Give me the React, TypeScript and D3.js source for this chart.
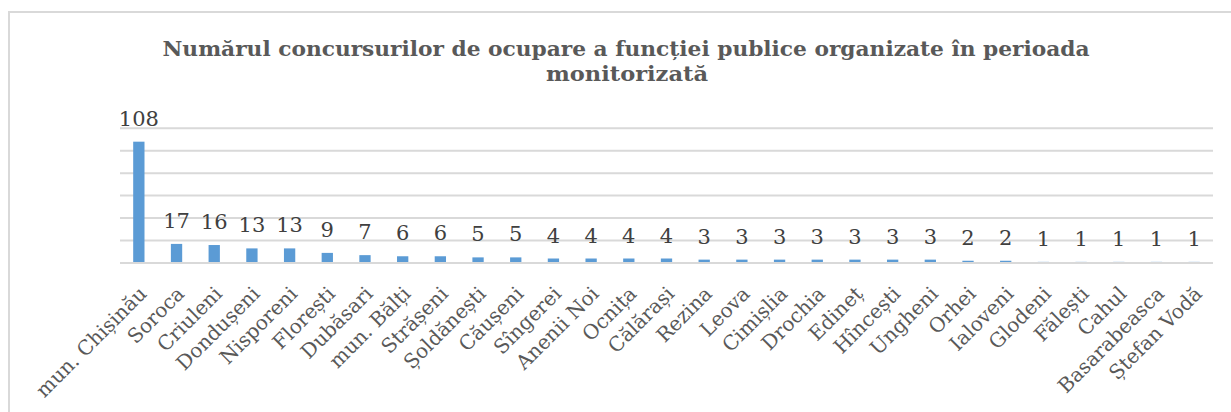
import React from "react";
import * as d3 from "d3";

const districts = [
  "mun. Chișinău", "Soroca", "Criuleni", "Dondușeni", "Nisporeni", "Florești",
  "Dubăsari", "mun. Bălți", "Strășeni", "Șoldănești", "Căușeni", "Sîngerei",
  "Anenii Noi", "Ocnița", "Călărași", "Rezina", "Leova", "Cimișlia", "Drochia",
  "Edineț", "Hîncești", "Ungheni", "Orhei", "Ialoveni", "Glodeni", "Fălești",
  "Cahul", "Basarabeasca", "Ștefan Vodă",
];
const contests = [108, 17, 16, 13, 13, 9, 7, 6, 6, 5, 5, 4, 4, 4, 4, 3, 3, 3, 3, 3, 3, 3, 2, 2, 1, 1, 1, 1, 1];
const gridTicks = [0, 20, 40, 60, 80, 100, 120];
const titleLines = [
  "Numărul concursurilor de ocupare a funcției publice organizate în perioada",
  "monitorizată",
];

const W = 1231;
const H = 412;
const plot = { left: 120, right: 1213, top: 128.2, bottom: 263 };

export default function App() {
  const x = d3.scaleBand<string>().domain(districts).range([plot.left, plot.right]).padding(0);
  const y = d3.scaleLinear().domain([0, 120]).range([plot.bottom, plot.top]);
  const barW = x.bandwidth() * 0.3;
  const serif = "'DejaVu Serif', serif";

  return (
    <svg width={W} height={H} style={{ position: "absolute", left: 0, top: 0, background: "#fff" }}>
      <rect x={9} y={12} width={W + 20} height={H + 20} fill="#fff" stroke="#D9D9D9" strokeWidth={2} />

      {/* title */}
      <text fill="#595959" fontFamily={serif} fontWeight="bold" fontSize={21} textAnchor="middle">
        <tspan x={626} y={56} textLength={927} lengthAdjust="spacingAndGlyphs">{titleLines[0]}</tspan>
        <tspan x={627} y={81} textLength={162} lengthAdjust="spacingAndGlyphs">{titleLines[1]}</tspan>
      </text>

      {/* gridlines (zero line drawn over the bars) */}
      {gridTicks.filter((t) => t > 0).map((t) => (
        <line key={t} x1={plot.left} x2={plot.right} y1={y(t)} y2={y(t)} stroke="#D9D9D9" strokeWidth={2} />
      ))}

      {/* bars */}
      {districts.map((d, i) => {
        const cx = (x(d) ?? 0) + x.bandwidth() / 2;
        return (
          <g key={d}>
            <rect x={cx - barW / 2} y={y(contests[i])} width={barW} height={y(0) - y(contests[i])} fill="#5B9BD5" />
            <text x={cx} y={y(contests[i]) - 16} textAnchor="middle" fontFamily={serif} fontSize={21} fill="#404040">
              {contests[i]}
            </text>
          </g>
        );
      })}

      <line x1={plot.left} x2={plot.right} y1={y(0)} y2={y(0)} stroke="#D9D9D9" strokeWidth={2} />

      {/* category labels */}
      {districts.map((d) => {
        const cx = (x(d) ?? 0) + x.bandwidth() / 2;
        return (
          <text
            key={"l" + d}
            transform={`translate(${cx + 9},${plot.bottom + 32}) rotate(-45)`}
            textAnchor="end"
            fontFamily={serif}
            fontSize={20}
            fill="#595959"
          >
            {d}
          </text>
        );
      })}
    </svg>
  );
}
